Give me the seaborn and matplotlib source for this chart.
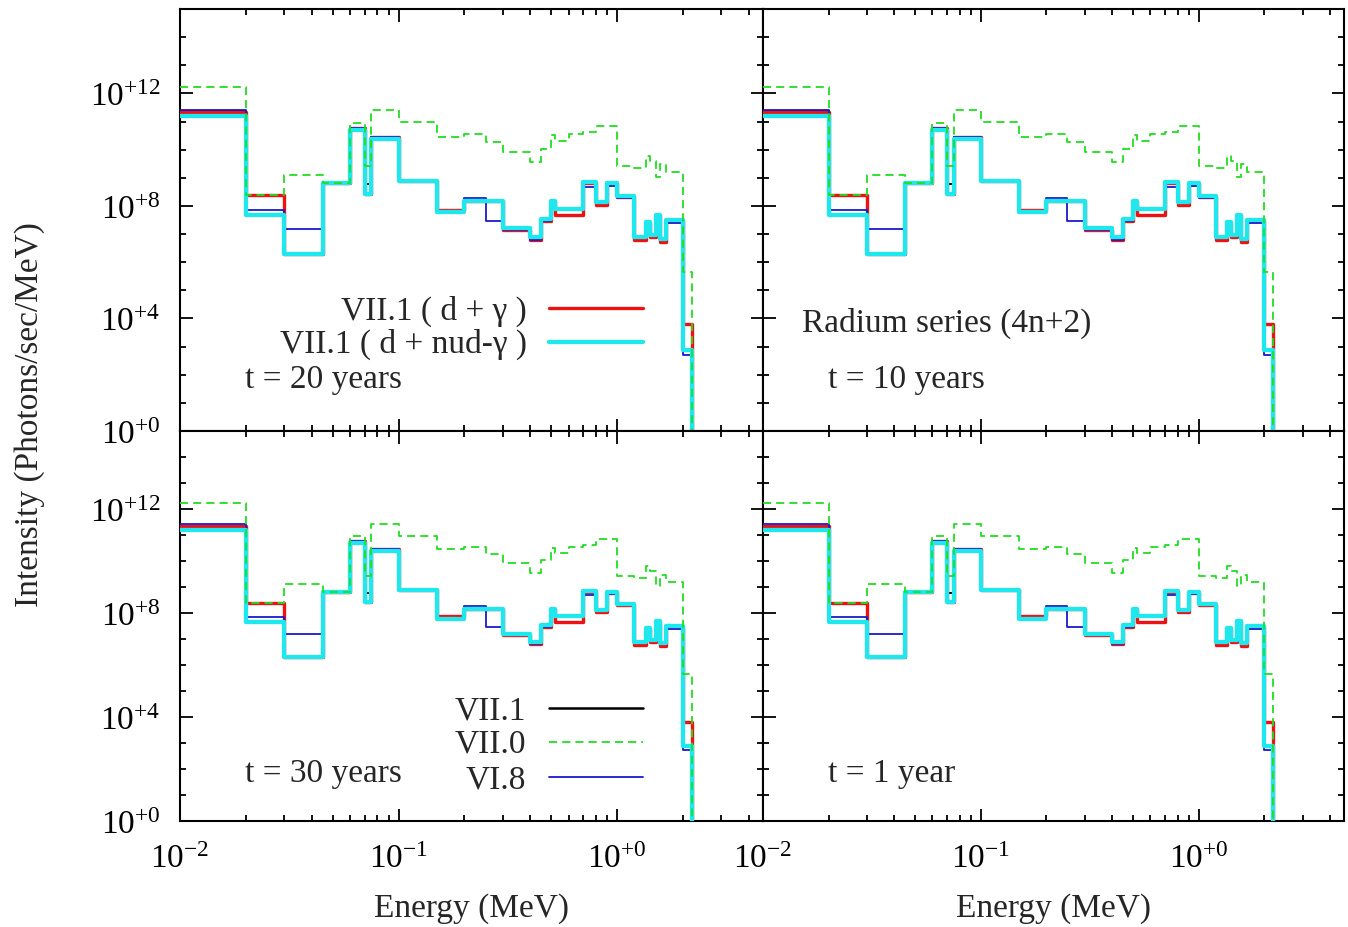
import numpy as np
import pandas as pd
import seaborn as sns
import matplotlib.pyplot as plt
from matplotlib.ticker import FixedLocator, FuncFormatter, NullFormatter

# energy group boundaries (MeV)
energy_edges = [0.01, 0.02, 0.03, 0.045, 0.06, 0.07, 0.075, 0.1, 0.15, 0.2,
                0.25, 0.3, 0.4, 0.45, 0.5, 0.52, 0.6, 0.7, 0.8, 0.9,
                1.0, 1.2, 1.35, 1.41, 1.5, 1.57, 1.67, 2.0, 2.2]

# group intensities (photons/sec/MeV)
vii0 = [1.7e12, 2.5e8, 1.3e9, 6.5e8, 8.9e10, 2.7e9, 2.6e11, 9.3e10, 2.8e10, 3.6e10,
        1.8e10, 8.1e9, 3.5e9, 1.05e10, 3.2e10, 2.1e10, 3.6e10, 4.2e10, 7.1e10, 7.1e10,
        2.7e9, 2.2e9, 6.2e9, 4.1e9, 1.05e9, 3.0e9, 1.6e9, 4.6e5]
vii1_dg = [2.2e11, 2.5e8, 2.0e6, 6.5e8, 5.9e10, 2.7e8, 2.9e10, 7.4e8, 7.4e7, 1.45e8,
           1.45e8, 1.45e7, 6.3e6, 2.8e7, 1.45e8, 4.6e7, 4.6e7, 6.3e8, 1.05e8, 6.0e8,
           2.1e8, 6.0e6, 2.5e7, 8.0e6, 4.6e7, 5.4e6, 2.8e7, 6.6e3]
vii1_nud = [1.6e11, 4.6e7, 2.0e6, 6.5e8, 5.0e10, 2.7e8, 2.4e10, 7.4e8, 6.0e7, 1.45e8,
            1.45e8, 1.6e7, 7.8e6, 3.5e7, 1.45e8, 7.9e7, 7.9e7, 6.9e8, 1.35e8, 6.6e8,
            2.3e8, 7.8e6, 2.75e7, 9.5e6, 4.8e7, 6.8e6, 3.2e7, 7.4e2]
vi8 = [2.6e11, 6.9e7, 1.5e7, 6.5e8, 5.9e10, 2.7e8, 2.9e10, 7.4e8, 6.0e7, 1.9e8,
       2.8e7, 1.45e7, 6.3e6, 2.8e7, 1.45e8, 7.9e7, 7.9e7, 4.8e8, 1.35e8, 5.2e8,
       1.95e8, 7.8e6, 1.8e7, 9.5e6, 4.8e7, 6.8e6, 2.45e7, 5.2e2]
vii1 = [2.3e11, 2.5e8, 2.0e6, 6.5e8, 5.9e10, 6.0e8, 2.9e10, 7.4e8, 7.4e7, 1.45e8,
        1.45e8, 1.45e7, 6.3e6, 2.8e7, 1.45e8, 4.6e7, 4.6e7, 6.3e8, 1.05e8, 6.0e8,
        2.1e8, 6.0e6, 2.5e7, 8.0e6, 4.6e7, 5.4e6, 2.8e7, 6.6e3]

panel_times = ['t = 20 years', 't = 10 years', 't = 30 years', 't = 1 year']

sns.set_theme(style='ticks')
plt.rcParams['font.family'] = ['Liberation Serif', 'DejaVu Serif']
plt.rcParams['mathtext.fontset'] = 'custom'
plt.rcParams['mathtext.rm'] = 'Liberation Serif'
plt.rcParams['mathtext.it'] = 'Liberation Serif:italic'
plt.rcParams['font.size'] = 24
plt.rcParams['axes.linewidth'] = 1.5


def step_frame(vals, name):
    # histogram outline: step through edges, then fall off the bottom
    x = list(energy_edges) + [energy_edges[-1]]
    y = list(vals) + [vals[-1], 1e-3]
    return pd.DataFrame({'energy': x, 'intensity': y, 'series': name})


df = pd.concat([step_frame(vii1, 'VII.1'),
                step_frame(vii1_dg, 'VII.1 ( d + γ )'),
                step_frame(vi8, 'VI.8'),
                step_frame(vii1_nud, 'VII.1 ( d + nud-γ )'),
                step_frame(vii0, 'VII.0')])

styles = {
    'VII.1': dict(color='black', lw=1.4, zorder=2),
    'VII.1 ( d + γ )': dict(color='#ee1111', lw=2.4, zorder=3),
    'VI.8': dict(color='#1a1acc', lw=1.3, zorder=4),
    'VII.1 ( d + nud-γ )': dict(color='#1ee8ee', lw=3.1, zorder=5),
    'VII.0': dict(color='#22dd22', lw=1.3, zorder=6, linestyle=(0, (4.5, 2.8))),
}

W, H = 1348, 928
fig = plt.figure(figsize=(W / 100, H / 100), dpi=100)
boxes = [(180, 10, 583, 422), (763, 10, 581, 422),
         (180, 432, 583, 390), (763, 432, 581, 390)]


def fmt(v, pos):
    e = int(round(np.log10(v)))
    return r'$\mathregular{10^{%+d}}$' % e


axes = []
for i, (x0, y0, w, h) in enumerate(boxes):
    ax = fig.add_axes([x0 / W, 1 - (y0 + h) / H, w / W, h / H])
    for name, st in styles.items():
        sns.lineplot(data=df[df['series'] == name], x='energy', y='intensity',
                     estimator=None, sort=False, drawstyle='steps-post', ax=ax, **st)
    ax.set_xscale('log')
    ax.set_yscale('log')
    ax.set_xlim(0.01, 4.65)
    ax.set_ylim(1, 1e15)
    ax.xaxis.set_major_locator(FixedLocator([0.01, 0.1, 1.0]))
    ax.xaxis.set_minor_locator(FixedLocator([m * 10.0 ** d for d in (-2, -1, 0)
                                             for m in range(2, 10)]))
    ax.yaxis.set_major_locator(FixedLocator([1, 1e4, 1e8, 1e12]))
    ax.yaxis.set_minor_locator(FixedLocator([10.0 ** k for k in range(1, 15) if k % 4]))
    ax.xaxis.set_major_formatter(FuncFormatter(fmt))
    ax.yaxis.set_major_formatter(FuncFormatter(fmt))
    ax.xaxis.set_minor_formatter(NullFormatter())
    ax.yaxis.set_minor_formatter(NullFormatter())
    ax.tick_params(which='both', direction='in', top=True, right=True,
                   width=1.3, colors='black', labelsize=24)
    ax.tick_params(which='major', length=9)
    ax.tick_params(which='minor', length=4.5)
    ax.tick_params(axis='y', pad=14)
    ax.tick_params(axis='x', pad=16)
    ax.tick_params(labelleft=(i % 2 == 0), labelbottom=(i >= 2))
    ax.set_ylabel('')
    if i >= 2:
        ax.set_xlabel('Energy (MeV)', fontsize=24, labelpad=13)
    else:
        ax.set_xlabel('')
    for sp in ax.spines.values():
        sp.set_color('black')
        sp.set_linewidth(1.5)
    axes.append(ax)

# panel annotations
axes[0].text(0.111, 0.104, panel_times[0], transform=axes[0].transAxes, fontsize=24)
axes[1].text(0.112, 0.104, panel_times[1], transform=axes[1].transAxes, fontsize=24)
axes[2].text(0.111, 0.103, panel_times[2], transform=axes[2].transAxes, fontsize=24)
axes[3].text(0.112, 0.103, panel_times[3], transform=axes[3].transAxes, fontsize=24)
axes[1].text(0.067, 0.237, 'Radium series (4n+2)', transform=axes[1].transAxes, fontsize=24)

# key in the top-left panel
for name, ty, ly in [('VII.1 ( d + γ )', 0.265, 0.291), ('VII.1 ( d + nud-γ )', 0.187, 0.212)]:
    axes[0].text(0.595, ty, name, transform=axes[0].transAxes, ha='right', fontsize=24)
    st = styles[name]
    axes[0].plot([0.633, 0.794], [ly, ly], transform=axes[0].transAxes,
                 color=st['color'], lw=st['lw'], ls=st.get('linestyle', '-'))

# key in the bottom-left panel
for name, ty, ly in [('VII.1', 0.263, 0.289), ('VII.0', 0.177, 0.203), ('VI.8', 0.087, 0.114)]:
    axes[2].text(0.593, ty, name, transform=axes[2].transAxes, ha='right', fontsize=24)
    st = styles[name]
    axes[2].plot([0.633, 0.794], [ly, ly], transform=axes[2].transAxes,
                 color=st['color'], lw=1.8 if name == 'VII.1' else st['lw'],
                 ls=st.get('linestyle', '-'))

fig.text(0.022, 0.553, 'Intensity (Photons/sec/MeV)', rotation=90,
         ha='center', va='center', fontsize=24)

plt.savefig('out.png', dpi=100)
plt.close()
